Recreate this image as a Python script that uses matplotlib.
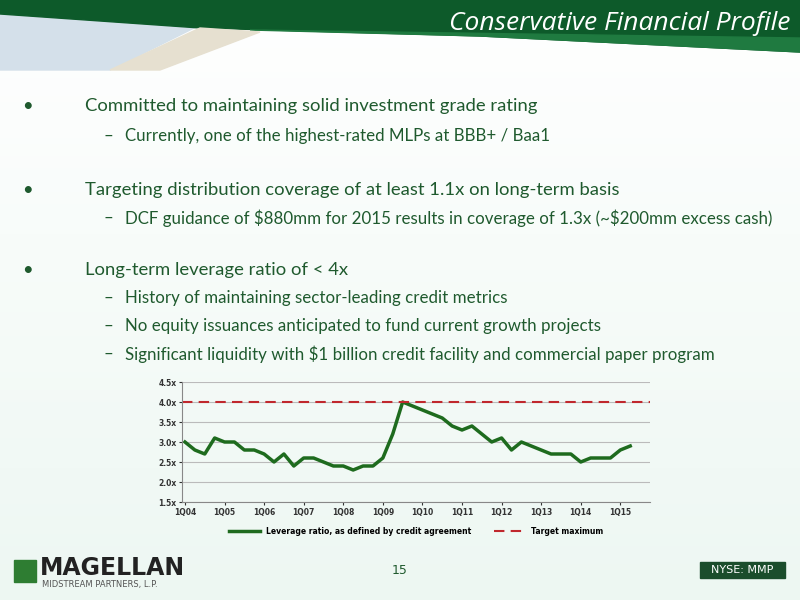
import matplotlib
matplotlib.use("Agg")
import matplotlib.pyplot as plt
import numpy as np
from matplotlib.patches import Polygon, Rectangle

quarters = list(range(46))
leverage = [3.0, 2.8, 2.7, 3.1, 3.0, 3.0, 2.8, 2.8, 2.7, 2.5, 2.7, 2.4,
            2.6, 2.6, 2.5, 2.4, 2.4, 2.3, 2.4, 2.4, 2.6, 3.2, 4.0, 3.9,
            3.8, 3.7, 3.6, 3.4, 3.3, 3.4, 3.2, 3.0, 3.1, 2.8, 3.0, 2.9,
            2.8, 2.7, 2.7, 2.7, 2.5, 2.6, 2.6, 2.6, 2.8, 2.9]
target = 4.0
tick_labels = ["1Q04", "1Q05", "1Q06", "1Q07", "1Q08", "1Q09", "1Q10",
               "1Q11", "1Q12", "1Q13", "1Q14", "1Q15"]
yticks = [1.5, 2.0, 2.5, 3.0, 3.5, 4.0, 4.5]

fig = plt.figure(figsize=(8, 6), dpi=100)
bg = fig.add_axes([0, 0, 1, 1])
bg.set_xlim(0, 800); bg.set_ylim(600, 0); bg.axis("off")
grad = np.linspace(0, 1, 100).reshape(-1, 1)
bg.imshow(np.dstack([1 - 0.07 * grad, 1 - 0.03 * grad, 1 - 0.05 * grad]),
          extent=[0, 800, 600, 0], aspect="auto")
# header
bg.add_patch(Polygon([[0, 12], [200, 25], [110, 70], [0, 70]], color="#d4e0ea"))
bg.add_patch(Polygon([[0, 0], [800, 0], [800, 52], [480, 36], [200, 28], [0, 14]], color="#0d5a2a"))
bg.add_patch(Polygon([[250, 30], [800, 38], [800, 52], [480, 36]], color="#1f7a40"))
bg.add_patch(Polygon([[200, 28], [260, 32], [160, 70], [110, 70]], color="#e6e0d0"))
bg.text(790, 24, "Conservative Financial Profile", color="white", fontsize=19,
        style="italic", family="Open Sans", ha="right", va="center")

tc = "#1f5a2e"
lines = [
    (22, 85, 106, "•", "Committed to maintaining solid investment grade rating", 13.3),
    (108, 125, 136, "–", "Currently, one of the highest-rated MLPs at BBB+ / Baa1", 12.2),
    (22, 85, 190, "•", "Targeting distribution coverage of at least 1.1x on long-term basis", 13.3),
    (108, 125, 218, "–", "DCF guidance of \\$880mm for 2015 results in coverage of 1.3x (~\\$200mm excess cash)", 12.2),
    (22, 85, 270, "•", "Long-term leverage ratio of < 4x", 13.3),
    (108, 125, 298, "–", "History of maintaining sector-leading credit metrics", 12.2),
    (108, 125, 326, "–", "No equity issuances anticipated to fund current growth projects", 12.2),
    (108, 125, 354, "–", "Significant liquidity with \\$1 billion credit facility and commercial paper program", 12.2),
]
for bx, tx, y, b, t, fs in lines:
    bg.text(bx, y, b, color=tc, fontsize=fs, family="Lato", va="center", ha="center" if b == "–" else "left")
    bg.text(tx, y, t, color=tc, fontsize=fs, family="Lato", va="center")

bg.text(400, 570, "15", color=tc, fontsize=9, ha="center", va="center")
bg.add_patch(Polygon([[14, 560], [36, 560], [36, 582], [14, 582]], color="#2e7d32"))
bg.text(40, 568, "MAGELLAN", color="#222222", fontsize=17, weight="bold", va="center")
bg.text(42, 584, "MIDSTREAM PARTNERS, L.P.", color="#555555", fontsize=6, va="center")
bg.add_patch(Rectangle((700, 562), 85, 16, color="#1b4d2c"))
bg.text(742, 570, "NYSE: MMP", color="white", fontsize=8, ha="center", va="center")

ax = fig.add_axes([182 / 800, 1 - 502 / 600, (650 - 182) / 800, 120 / 600])
ax.set_facecolor("none")
ax.plot(quarters, leverage, color="#1e6b1e", lw=2.5,
        label="Leverage ratio, as defined by credit agreement")
ax.axhline(target, color="#c0282d", lw=1.5, ls=(0, (5, 3)), label="Target maximum")
ax.set_ylim(1.5, 4.5)
ax.set_xlim(-0.3, 47)
ax.set_yticks(yticks)
ax.set_yticklabels([f"{v:.1f}x" for v in yticks], fontsize=5.5, weight="bold")
ax.set_xticks(range(0, 46, 4))
ax.set_xticklabels(tick_labels, fontsize=5.5, weight="bold")
ax.grid(axis="y", color="#bbbbbb", lw=0.8)
ax.set_axisbelow(True)
for s in ["top", "right"]:
    ax.spines[s].set_visible(False)
ax.spines["left"].set_color("#888888")
ax.spines["bottom"].set_color("#888888")
ax.tick_params(length=2, colors="#333333", pad=2)
ax.legend(loc="upper center", bbox_to_anchor=(0.5, -0.15), ncol=2, frameon=False,
          prop={"weight": "bold", "size": 5.5}, handlelength=4, columnspacing=3)

fig.savefig("out.png", dpi=100)
